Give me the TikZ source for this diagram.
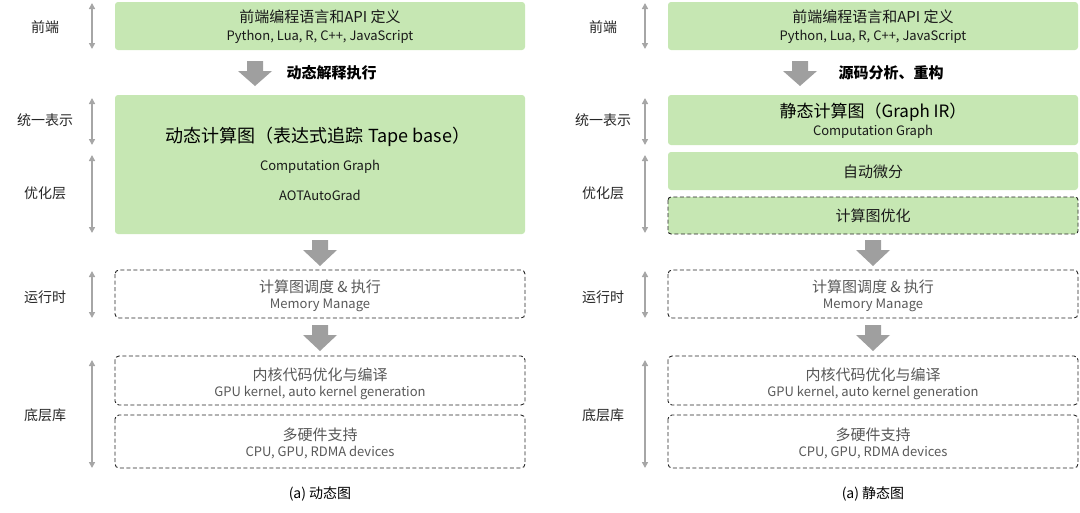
\documentclass[tikz,border=0pt]{standalone}
\usepackage{fontspec}
\setmainfont{Noto Sans CJK SC}
\begin{document}
\begin{tikzpicture}[x=1pt,y=-1pt,
  green/.style={fill=boxgreen,draw=none,rounded corners=3pt},
  dbox/.style={draw=black!85,line width=0.9pt,dash pattern=on 4pt off 2.5pt,rounded corners=4pt,fill=white},
  side/.style={gray!70,line width=1.5pt,{Triangle[length=6pt,width=6pt]}-{Triangle[length=6pt,width=6pt]}},
  bigarrow/.style={fill=gray!75,draw=none},
  lab/.style={font=\fontsize{14}{16}\selectfont,text=black!85},
  t1/.style={font=\fontsize{15}{17}\selectfont,text=black!90},
  t2/.style={font=\fontsize{13}{15}\selectfont,text=black!90},
  g1/.style={font=\fontsize{15}{17}\selectfont,text=black!65},
  g2/.style={font=\fontsize{13}{15}\selectfont,text=black!65}]
\usetikzlibrary{arrows.meta}
\definecolor{boxgreen}{HTML}{C6E7B3}
\useasboundingbox (0,0) rectangle (1080,512);
\newcommand{\dnarrow}[3]{\fill[bigarrow] (#1-8,#2) -- (#1+8,#2) -- (#1+8,#2+10) -- (#1+17,#2+10) -- (#1,#3) -- (#1-17,#2+10) -- (#1-8,#2+10) -- cycle;}
\foreach \ox/\lx/\ax in {0/45/92, 553/603/645} {
  \draw[side] (\ax,3) -- (\ax,49);
  \node[lab] at (\lx,27) {前端};
  \node[lab] at (\lx,297) {运行时};
  \node[lab] at (\lx,415) {底层库};
  \node[lab] at (\lx,120) {统一表示};
  \node[lab] at (\lx,193) {优化层};
  \draw[side] (\ax,98) -- (\ax,145);
  \draw[side] (\ax,155) -- (\ax,233);
  \draw[side] (\ax,271) -- (\ax,318);
  \draw[side] (\ax,360) -- (\ax,468);
}
% left panel
\fill[green] (115,2) rectangle (525,50);
\node[t1] at (320,17) {前端编程语言和API 定义};
\node[t2] at (320,37) {Python, Lua, R, C++, JavaScript};
\dnarrow{255}{61}{86}
\node[font=\fontsize{15}{17}\selectfont\bfseries,anchor=west] at (283,73) {动态解释执行};
\fill[green] (115,95) rectangle (525,234);
\node[font=\fontsize{18}{20}\selectfont] at (318,137) {动态计算图（表达式追踪 Tape base）};
\node[t2] at (320,167) {Computation Graph};
\node[t2] at (320,195) {AOTAutoGrad};
\dnarrow{320}{240}{266}
\draw[dbox] (115,270) rectangle (525,318);
\node[g1] at (320,287) {计算图调度 \& 执行};
\node[g2] at (320,305) {Memory Manage};
\dnarrow{320}{325}{351}
\draw[dbox] (115,356) rectangle (525,405);
\node[g1] at (320,375) {内核代码优化与编译};
\node[g2] at (320,393) {GPU kernel, auto kernel generation};
\draw[dbox] (115,415) rectangle (525,468);
\node[g1] at (320,435) {多硬件支持};
\node[g2] at (320,453) {CPU, GPU, RDMA devices};
\node[font=\fontsize{14}{16}\selectfont] at (320,494) {(a) 动态图};
% right panel
\fill[green] (668,2) rectangle (1078,50);
\node[t1] at (873,17) {前端编程语言和API 定义};
\node[t2] at (873,37) {Python, Lua, R, C++, JavaScript};
\dnarrow{800}{61}{86}
\node[font=\fontsize{15}{17}\selectfont\bfseries,anchor=west] at (835,73) {源码分析、重构};
\fill[green] (668,95) rectangle (1078,145);
\node[font=\fontsize{17}{19}\selectfont] at (873,112) {静态计算图（Graph IR）};
\node[t2] at (873,132) {Computation Graph};
\fill[green] (668,152) rectangle (1078,190);
\node[t1] at (873,172) {自动微分};
\draw[green,draw=black!85,line width=0.9pt,dash pattern=on 4pt off 2.5pt] (668,197) rectangle (1078,234);
\node[t1] at (873,216) {计算图优化};
\dnarrow{873}{240}{266}
\draw[dbox] (668,270) rectangle (1078,318);
\node[g1] at (873,287) {计算图调度 \& 执行};
\node[g2] at (873,305) {Memory Manage};
\dnarrow{873}{325}{351}
\draw[dbox] (668,356) rectangle (1078,405);
\node[g1] at (873,375) {内核代码优化与编译};
\node[g2] at (873,393) {GPU kernel, auto kernel generation};
\draw[dbox] (668,415) rectangle (1078,468);
\node[g1] at (873,435) {多硬件支持};
\node[g2] at (873,453) {CPU, GPU, RDMA devices};
\node[font=\fontsize{14}{16}\selectfont] at (873,494) {(a) 静态图};
\end{tikzpicture}
\end{document}
